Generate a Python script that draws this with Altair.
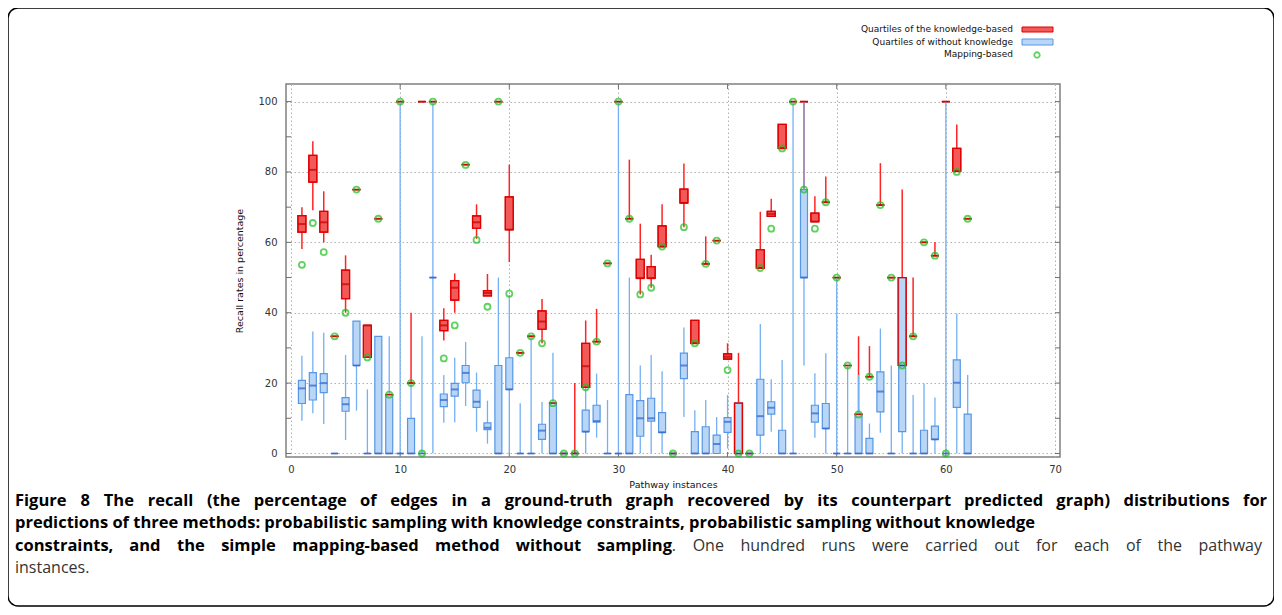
import altair as alt
import pandas as pd

instances = list(range(1, 63))

# Knowledge-based (red): whisker low, Q1, median, Q3, whisker high
kb_low = [58.1, 69.1, 60.0, 33.3, 40.0, 75.0, 27.3, 66.7, 16.7, 100, 20.0, 100, 100, 32.1, 40.0, 82.1, 61.0, 44.8, 100, 54.4,
          28.6, 33.3, 31.3, 14.3, 0, 0, 18.8, 31.8, 54.0, 100, 66.7, 45.2, 47.1, 58.8, 0, 64.3, 31.3, 53.9, 60.5, 26.8,
          0, 0, 52.7, 67.4, 86.7, 100, 75.0, 65.9, 71.4, 50.0, 25.0, 11.1, 21.8, 70.6, 50.0, 25.0, 33.3, 60.0, 56.2, 100,
          80.2, 66.7]
kb_q1 = [62.9, 77.1, 62.9, 33.3, 44.0, 75.0, 27.3, 66.7, 16.7, 100, 20.0, 100, 100, 34.9, 43.6, 82.1, 64.0, 44.8, 100, 63.6,
         28.6, 33.3, 35.3, 14.3, 0, 0, 18.8, 31.8, 54.0, 100, 66.7, 49.8, 49.8, 58.8, 0, 71.2, 31.3, 53.9, 60.5, 26.8,
         0, 0, 52.7, 67.4, 86.7, 100, 100, 65.9, 71.4, 50.0, 25.0, 11.1, 21.8, 70.6, 50.0, 25.0, 33.3, 60.0, 56.2, 100,
         80.2, 66.7]
kb_med = [65.2, 80.6, 65.7, 33.3, 48.1, 75.0, 36.4, 66.7, 16.7, 100, 20.0, 100, 100, 36.4, 47.1, 82.1, 65.7, 45.6, 100, 63.6,
          28.6, 33.3, 37.5, 14.3, 0, 0, 24.8, 31.8, 54.0, 100, 66.7, 49.8, 49.8, 58.8, 0, 71.2, 31.3, 53.9, 60.5, 27.5,
          0, 0, 52.7, 68.1, 86.7, 100, 100, 65.9, 71.4, 50.0, 25.0, 11.1, 21.8, 70.6, 50.0, 25.0, 33.3, 60.0, 56.2, 100,
          80.2, 66.7]
kb_q3 = [67.6, 84.7, 68.8, 33.3, 52.1, 75.0, 36.4, 66.7, 16.7, 100, 20.0, 100, 100, 37.8, 49.1, 82.1, 67.5, 46.3, 100, 72.9,
         28.6, 33.3, 40.5, 14.3, 0, 0, 31.3, 31.8, 54.0, 100, 66.7, 55.2, 53.1, 64.7, 0, 75.1, 37.8, 53.9, 60.5, 28.3,
         14.3, 0, 57.9, 68.8, 93.5, 100, 100, 68.3, 71.4, 50.0, 25.0, 11.1, 21.8, 70.6, 50.0, 50.0, 33.3, 60.0, 56.2, 100,
         86.7, 66.7]
kb_high = [70.0, 88.7, 74.5, 33.3, 56.3, 75.0, 36.4, 66.7, 16.7, 100, 40.0, 100, 100, 41.3, 51.2, 82.1, 70.8, 51.0, 100, 82.1,
           28.6, 33.3, 43.9, 14.3, 0, 20.0, 37.8, 41.1, 54.0, 100, 83.5, 65.3, 56.5, 70.8, 0, 82.4, 37.8, 61.7, 60.5, 31.3,
           28.6, 0, 68.7, 72.4, 93.5, 100, 100, 73.1, 78.7, 50.0, 25.0, 33.3, 30.5, 82.5, 50.0, 75.0, 50.0, 60.0, 60.1, 100,
           93.5, 66.7]

# Without knowledge (blue)
wk_low = [9.3, 11.4, 8.4, 0, 3.8, 12.2, 0, 0, 0, 0, 0, 0, 0, 8.7, 8.9, 13.5, 6.2, 2.8, 0, 0,
          0, 0, 0, 0, 0, 0, 0, 4.5, 0, 0, 0, 0, 0, 0, 0, 10.4, 0, 0, 0, 1.4,
          0, 0, 0, 6.2, 0, 0, 25.0, 4.5, 0, 0, 0, 0, 0, 5.9, 0, 0, 0, 0, 0, 0,
          0, 0]
wk_q1 = [14.2, 15.2, 17.3, 0, 12.0, 25.0, 0, 0, 0, 0, 0, 0, 50.0, 13.3, 16.3, 20.1, 13.1, 6.8, 0, 18.2,
         0, 0, 4.0, 0, 0, 0, 6.2, 8.9, 0, 0, 0, 4.9, 9.2, 6.0, 0, 21.3, 0, 0, 0, 6.0,
         0, 0, 5.2, 11.2, 0, 0, 50.0, 8.9, 7.1, 0, 0, 0, 0, 11.8, 0, 6.2, 0, 0, 4.0, 0,
         13.1, 0]
wk_med = [18.5, 19.3, 20.0, 0, 14.0, 25.0, 0, 0, 0, 0, 0, 0, 50.0, 15.2, 18.2, 22.9, 14.7, 7.3, 0, 18.2,
          0, 0, 6.5, 0, 0, 0, 6.2, 9.2, 0, 0, 0, 10.0, 10.0, 6.0, 0, 25.0, 0, 0, 2.7, 9.0,
          0, 0, 10.6, 13.0, 0, 0, 50.0, 11.4, 7.1, 0, 0, 0, 0, 17.6, 0, 25.0, 0, 0, 4.0, 0,
          20.1, 0]
wk_q3 = [20.8, 23.0, 22.7, 0, 15.9, 37.6, 0, 33.3, 16.7, 0, 10.0, 0, 50.0, 16.9, 19.9, 25.0, 18.0, 8.7, 25.0, 27.2,
         0, 0, 8.3, 14.3, 0, 0, 12.3, 13.7, 0, 0, 16.7, 15.0, 15.7, 11.6, 0, 28.5, 6.2, 7.6, 5.2, 10.2,
         14.3, 0, 21.1, 14.7, 6.6, 0, 75.0, 13.7, 14.2, 0, 0, 11.1, 4.3, 23.2, 0, 50.0, 0, 6.6, 7.8, 0,
         26.6, 11.2]
wk_high = [27.8, 34.7, 34.3, 0, 28.0, 37.6, 18.2, 33.3, 33.3, 100, 20.0, 33.3, 100, 22.3, 27.2, 31.7, 23.0, 15.0, 50.0, 45.0,
           14.3, 33.3, 14.6, 28.6, 0, 0, 18.8, 22.7, 15.2, 100, 50.0, 25.0, 28.0, 23.4, 0, 35.8, 12.3, 15.2, 10.4, 16.6,
           14.3, 0, 36.8, 21.1, 26.6, 100, 100, 22.8, 28.5, 50.0, 25.0, 22.3, 8.5, 35.5, 25.0, 50.0, 16.6, 19.9, 15.9, 100,
           39.8, 22.3]

# Mapping-based (green circles)
mapping = [53.6, 65.5, 57.2, 33.3, 40.0, 75.0, 27.3, 66.7, 16.7, 100, 20.0, 0, 100, 27.0, 36.4, 82.0, 60.7, 41.7, 100, 45.4,
           28.6, 33.3, 31.3, 14.3, 0, 0, 18.8, 31.8, 54.0, 100, 66.7, 45.2, 47.1, 58.8, 0, 64.3, 31.3, 53.9, 60.5, 23.7,
           0, 0, 52.7, 63.9, 86.7, 100, 75.0, 63.9, 71.4, 50.0, 25.0, 11.1, 21.8, 70.6, 50.0, 25.0, 33.3, 60.0, 56.2, 0,
           80.0, 66.7]

legend_labels = ["Quartiles of the knowledge-based", "Quartiles of without knowledge", "Mapping-based"]
x_ticks = list(range(0, 71, 10))
y_ticks = list(range(0, 101, 10))

caption_bold = [
    "Figure 8 The recall (the percentage of edges in a ground-truth graph recovered by its counterpart predicted graph) distributions for",
    "predictions of three methods: probabilistic sampling with knowledge constraints, probabilistic sampling without knowledge",
    "constraints, and the simple mapping-based method without sampling",
]
caption_regular = [". One hundred runs were carried out for each of the pathway", "instances."]

RED_LINE = "#ff2424"
RED_FILL = "#f25a5a"
RED_EDGE = "#e00000"
RED_MED = "#c00000"
BLUE_LINE = "#74b0f2"
BLUE_FILL = "#bad6f6"
BLUE_EDGE = "#5597e6"
BLUE_MED = "#2f5fcf"
GREEN = "#1fbf1f"
FONT = "DejaVu Sans"
CAP_FONT = "Open Sans"
BOLD_SIZE = 16.5
REG_SIZE = 16

# ---------------------------------------------------------------- data frames
def frame(low, q1, med, q3, high):
    return pd.DataFrame({"inst": instances, "low": low, "q1": q1, "med": med, "q3": q3, "high": high})


kb = frame(kb_low, kb_q1, kb_med, kb_q3, kb_high)
wk = frame(wk_low, wk_q1, wk_med, wk_q3, wk_high)
mp = pd.DataFrame({"inst": instances, "val": mapping})
xt = pd.DataFrame({"t": x_ticks[1:-1]})
yt = pd.DataFrame({"t": y_ticks})

XS = alt.Scale(domain=[0, 70], nice=False, zero=False)
YS = alt.Scale(domain=[-1, 105], nice=False, zero=False)
X = alt.X("inst:Q", scale=XS, axis=alt.Axis(values=x_ticks, title="Pathway instances", format="d"))


def Y(field):
    return alt.Y(f"{field}:Q", scale=YS,
                 axis=alt.Axis(values=y_ticks, title="Recall rates in percentage", format="d"))


def whiskers(df, color, w):
    return alt.Chart(df).mark_rule(color=color, strokeWidth=w).encode(x=X, y=Y("low"), y2="high")


def boxes(df, fill, edge, size, fop=1.0):
    return alt.Chart(df).mark_bar(size=size, fill=fill, fillOpacity=fop, stroke=edge, strokeWidth=1.2).encode(
        x=X, y=Y("q1"), y2="q3")


def medians(df, color, size):
    return alt.Chart(df).mark_tick(orient="horizontal", size=size, thickness=2, color=color).encode(x=X, y=Y("med"))


one = pd.DataFrame({"k": [0]})


def txt(s, x, y, size, weight="normal", align="left", color="#111", font=FONT):
    return alt.Chart(one).mark_text(align=align, baseline="middle", font=font, fontSize=size,
                                    fontWeight=weight, color=color).encode(
        x=alt.value(x), y=alt.value(y), text=alt.value(s))


# ------------------------------------------------ caption word layout (justify)
BOLD_W = {" ": .26, "a": .59, "b": .618, "c": .496, "d": .618, "e": .581, "f": .378, "g": .547, "h": .644, "i": .299,
          "j": .299, "k": .602, "l": .299, "m": .955, "n": .644, "o": .605, "p": .618, "q": .618, "r": .442, "s": .496,
          "t": .413, "u": .644, "v": .561, "w": .819, "x": .57, "y": .561, "z": .48, "F": .559, "T": .566, "O": .78,
          "8": .572, "(": .332, ")": .332, "-": .322, ":": .286, ",": .27, ".": .286}
REG_W = {" ": .26, "a": .556, "b": .613, "c": .476, "d": .613, "e": .561, "f": .339, "g": .548, "h": .614, "i": .253,
         "j": .253, "k": .525, "l": .253, "m": .93, "n": .614, "o": .604, "p": .613, "q": .613, "r": .408, "s": .477,
         "t": .353, "u": .614, "v": .501, "w": .778, "x": .5, "y": .502, "z": .46, "O": .781, ".": .266, ",": .25}


def est(s, table, size):
    return sum(table.get(c, 0.6) for c in s) * size


# calibration against measured natural widths (px at 16px): line1 bold 1042, regular part 454
cal_b = 1042.0 / est(caption_bold[0], BOLD_W, 16)
cal_r = 454.0 / est(caption_regular[0], REG_W, 16)


def justify(tokens, start, end):
    """tokens: list of (text, bold, gap_before)"""
    widths, gaps = [], []
    for t, b, g in tokens:
        if b:
            widths.append(est(t, BOLD_W, BOLD_SIZE) * cal_b)
        else:
            widths.append(est(t, REG_W, REG_SIZE) * cal_r)
        gaps.append(g)
    space = 0.26 * BOLD_SIZE * cal_b
    ngaps = sum(1 for g in gaps[1:] if g)
    natural = sum(widths) + space * ngaps
    extra = max(0.0, (end - start - natural) / max(ngaps, 1))
    xs, x = [], start
    for i, w in enumerate(widths):
        if i > 0 and gaps[i]:
            x += space + extra
        xs.append(x)
        x += w
    return xs


L1 = [(w, True, True) for w in caption_bold[0].split(" ")]
L3 = [(w, True, True) for w in caption_bold[2].split(" ")]
reg_words = caption_regular[0].split(" ")
L3.append((reg_words[0], False, False))
L3 += [(w, False, True) for w in reg_words[1:]]

OX, OY = 286, 84  # plot origin on the page
ROWS = [500.5, 523, 545.5, 568]
caption_layers = []
for (t, b, g), x in zip(L1, justify(L1, 15, 1267)):
    caption_layers.append(txt(t, x - OX, ROWS[0] - OY, BOLD_SIZE, weight="bold", color="#000", font=CAP_FONT))
caption_layers.append(txt(caption_bold[1], 15 - OX, ROWS[1] - OY, BOLD_SIZE, weight="bold", color="#000",
                          font=CAP_FONT))
for (t, b, g), x in zip(L3, justify(L3, 15, 1262)):
    if b:
        caption_layers.append(txt(t, x - OX, ROWS[2] - OY, BOLD_SIZE, weight="bold", color="#000", font=CAP_FONT))
    else:
        caption_layers.append(txt(t, x - OX, ROWS[2] - OY, REG_SIZE, color="#333", font=CAP_FONT))
caption_layers.append(txt(caption_regular[1], 15 - OX, ROWS[3] - OY, REG_SIZE, color="#333", font=CAP_FONT))

# ---------------------------------------------------------------- frame ticks (inward)
TICK = "#707070"
frame_ticks = [
    alt.Chart(xt).mark_rule(color=TICK, strokeWidth=1).encode(
        x=alt.X("t:Q", scale=XS), y=alt.value(373), y2=alt.value(368)),
    alt.Chart(xt).mark_rule(color=TICK, strokeWidth=1).encode(
        x=alt.X("t:Q", scale=XS), y=alt.value(0), y2=alt.value(5)),
    alt.Chart(yt).mark_rule(color=TICK, strokeWidth=1).encode(
        y=alt.Y("t:Q", scale=YS), x=alt.value(0), x2=alt.value(5)),
    alt.Chart(yt).mark_rule(color=TICK, strokeWidth=1).encode(
        y=alt.Y("t:Q", scale=YS), x=alt.value(774), x2=alt.value(769)),
]

layers = frame_ticks + [
    whiskers(kb, RED_LINE, 1.5),
    boxes(kb, RED_FILL, RED_EDGE, 8),
    medians(kb, RED_MED, 8),
    whiskers(wk, BLUE_LINE, 1.3),
    boxes(wk, BLUE_FILL, BLUE_EDGE, 7),
    medians(wk, BLUE_MED, 7),
    boxes(kb, RED_FILL, RED_EDGE, 8, fop=0.0),
    alt.Chart(mp).mark_point(shape="circle", filled=False, size=36, strokeWidth=1.8, color=GREEN).encode(
        x=X, y=Y("val")),
    # legend
    txt(legend_labels[0], 727, -55, 9, align="right"),
    txt(legend_labels[1], 727, -42, 9, align="right"),
    txt(legend_labels[2], 727, -30, 9, align="right"),
    alt.Chart(one).mark_rect(fill=RED_FILL, stroke=RED_EDGE, strokeWidth=1).encode(
        x=alt.value(736), x2=alt.value(767), y=alt.value(-57), y2=alt.value(-52)),
    alt.Chart(one).mark_rect(fill=BLUE_FILL, stroke=BLUE_EDGE, strokeWidth=1).encode(
        x=alt.value(736), x2=alt.value(767), y=alt.value(-45), y2=alt.value(-39)),
    alt.Chart(one).mark_point(shape="circle", filled=False, size=30, strokeWidth=1.8, color=GREEN).encode(
        x=alt.value(751), y=alt.value(-29)),
] + caption_layers + [
    # outer rounded border
    alt.Chart(one).mark_rect(fillOpacity=0, stroke="#000", strokeWidth=1.5, cornerRadius=10).encode(
        x=alt.value(-278), x2=alt.value(988), y=alt.value(-76), y2=alt.value(522)),
]

chart = alt.layer(*layers).properties(
    width=774, height=373,
    padding={"left": 278, "top": 76, "right": 214, "bottom": 150},
    autosize=alt.AutoSizeParams(type="none"),
).configure_view(
    stroke="#808080", strokeWidth=1.5
).configure_axis(
    grid=True, gridColor="#b0b0b0", gridDash=[1.5, 2.5], gridWidth=1,
    domain=False, ticks=False, tickSize=0,
    labelFont=FONT, labelFontSize=10, labelColor="#333",
    titleFont=FONT, titleFontSize=9.5, titleFontWeight="normal", titleColor="#111",
).configure_axisX(
    labelPadding=7, titlePadding=5,
).configure_axisY(
    labelPadding=9, titlePadding=13,
)

chart.save("out.html", embed_options={"renderer": "svg", "actions": False})
